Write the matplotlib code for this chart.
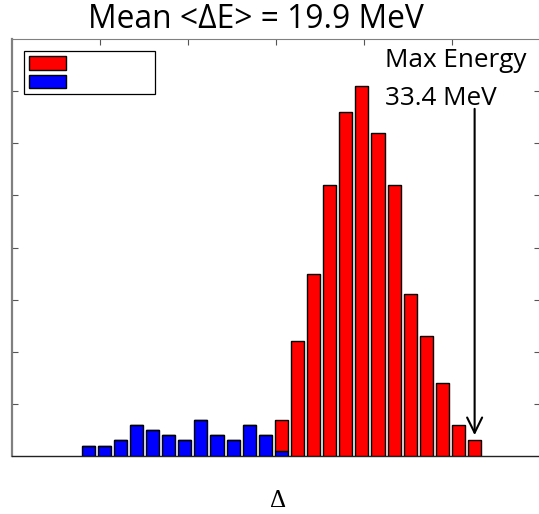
import numpy as np
import matplotlib
matplotlib.use('Agg')
import matplotlib.pyplot as plt
from matplotlib.patches import Patch

# counts per energy bin
blue_counts = [2, 2, 3, 6, 5, 4, 3, 7, 4, 3, 6, 4, 1,
               0, 0, 0, 0, 0, 0, 0, 0, 0, 0, 0, 0]
red_counts = [0, 0, 0, 0, 0, 0, 0, 0, 0, 0, 0, 0, 6,
              22, 35, 52, 66, 71, 62, 52, 31, 23, 14, 6, 3]
bins = np.arange(len(red_counts))

title_text = 'Mean <\u0394E> = 19.9 MeV'
note_lines = ['Max Energy', '33.4 MeV']
xlabel_text = '\u0394'
y_ticks = [10, 20, 30, 40, 50, 60, 70]

W, H = 539, 514
fig = plt.figure(figsize=(W / 100, H / 100), dpi=100)
# axes box in pixels: x 12..540, y 39..456 (right spine falls just off the image)
ax = fig.add_axes([12 / W, 1 - 456 / H, 528 / W, 417 / H])

ax.bar(bins, blue_counts, width=0.81, color='#0000ff', edgecolor='black', linewidth=1.0, zorder=3)
ax.bar(bins, red_counts, width=0.81, bottom=blue_counts, color='#ff0000',
       edgecolor='black', linewidth=1.0, zorder=3)

x0, x1 = -4.73, 28.06
ax.set_xlim(x0, x1)
ax.set_ylim(0, 80)
ax.set_xticks(np.linspace(x0, x1, 7)[1:-1])
ax.set_yticks(y_ticks)
ax.tick_params(direction='in', top=True, right=True, bottom=False, left=True,
               labelleft=False, labelbottom=False, length=4, width=0.8, colors='#555555')

for side in ['left', 'top', 'right']:
    ax.spines[side].set_color('#808080')
ax.spines['left'].set_linewidth(1.6)
ax.spines['top'].set_linewidth(0.8)
ax.spines['bottom'].set_color('#222222')
ax.spines['bottom'].set_linewidth(1.0)

# legend (entries carry no text)
handles = [Patch(facecolor='#ff0000', edgecolor='black', linewidth=1.0),
           Patch(facecolor='#0000ff', edgecolor='black', linewidth=1.0)]
ax.legend(handles, ['', ''], loc='upper left', mode='expand',
          bbox_to_anchor=(12 / 528, 0.861, 131 / 528, 0.110), borderaxespad=0,
          fontsize=8.6, handlelength=3.1, handleheight=1.33, labelspacing=0.42,
          borderpad=0.45, fancybox=False, edgecolor='black', framealpha=1)
ax.get_legend().get_frame().set_linewidth(0.9)

# arrow to the highest energy bin
last = bins[-1]
ax.annotate('', xy=(last, red_counts[-1] + 1), xytext=(last, 66.6),
            arrowprops=dict(arrowstyle='->, head_length=0.55, head_width=0.27',
                            mutation_scale=20, lw=1.5, color='black',
                            shrinkA=0, shrinkB=0), zorder=5)

sans = ['Open Sans', 'DejaVu Sans']
renderer = fig.canvas.get_renderer()


def fit_size(txt, target_px):
    # scale the font so the text spans target_px pixels
    w = txt.get_window_extent(renderer).width
    txt.set_fontsize(txt.get_fontsize() * target_px / w)


title = fig.text(88 / W, 1 - 28 / H, title_text, fontsize=20, family=sans,
                 ha='left', va='baseline')
fit_size(title, 335)
n1 = fig.text(385 / W, 1 - 67 / H, note_lines[0], fontsize=18, family=sans,
              ha='left', va='baseline')
fit_size(n1, 142)
fig.text(385 / W, 1 - 105 / H, note_lines[1], fontsize=n1.get_fontsize(), family=sans,
         ha='left', va='baseline')
fig.text(278 / W, 1 - 507 / H, xlabel_text, fontsize=18, family=['Liberation Serif', 'DejaVu Serif'],
         ha='center', va='baseline')

fig.savefig('out.png', dpi=100)
